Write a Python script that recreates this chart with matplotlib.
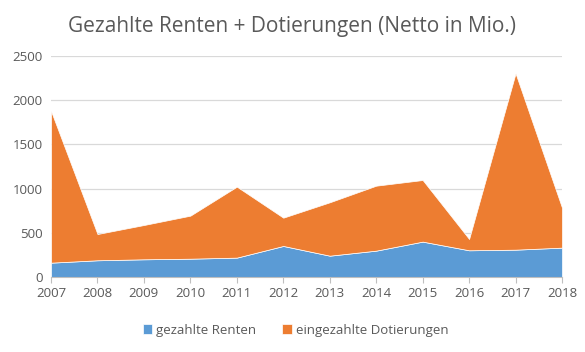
import matplotlib
matplotlib.use("Agg")
import matplotlib.pyplot as plt

years = [2007, 2008, 2009, 2010, 2011, 2012, 2013, 2014, 2015, 2016, 2017, 2018]
renten = [162, 189, 200, 207, 219, 351, 241, 298, 400, 302, 309, 332]
dotierungen = [1716, 297, 388, 487, 803, 320, 604, 735, 697, 128, 1995, 452]

plt.rcParams['font.family'] = ['Open Sans', 'DejaVu Sans']
grey = '#595959'

fig = plt.figure(figsize=(5.85, 3.52), dpi=100)
ax = fig.add_axes([0.0872, 0.2131, 0.8735, 0.6278])

ax.stackplot(years, renten, dotierungen,
             colors=['#5B9BD5', '#ED7D31'],
             labels=['gezahlte Renten', 'eingezahlte Dotierungen'],
             edgecolor='white', linewidth=0.5, zorder=2)

ax.set_xlim(2007, 2018)
ax.set_ylim(0, 2500)
ax.set_xticks(years)
ax.set_yticks(range(0, 2501, 500))
ax.grid(axis='y', color='#d9d9d9', linewidth=0.9, zorder=0)
ax.set_axisbelow(True)
for s in ['top', 'right', 'left']:
    ax.spines[s].set_visible(False)
ax.spines['bottom'].set_color('#bfbfbf')
ax.tick_params(axis='y', length=0, colors=grey, labelsize=9.5, pad=6)
ax.tick_params(axis='x', length=4, color='#bfbfbf', colors=grey, labelsize=9.5)

fig.suptitle('Gezahlte Renten + Dotierungen (Netto in Mio.)', x=0.5, y=0.955,
             fontsize=15, color=grey)

fig.legend(loc='lower center', bbox_to_anchor=(0.505, 0.01), ncol=2, frameon=False,
           fontsize=9.5, labelcolor=grey, handlelength=0.7, handleheight=0.7,
           columnspacing=2.0, handletextpad=0.3)

fig.savefig('out.png', dpi=100)
